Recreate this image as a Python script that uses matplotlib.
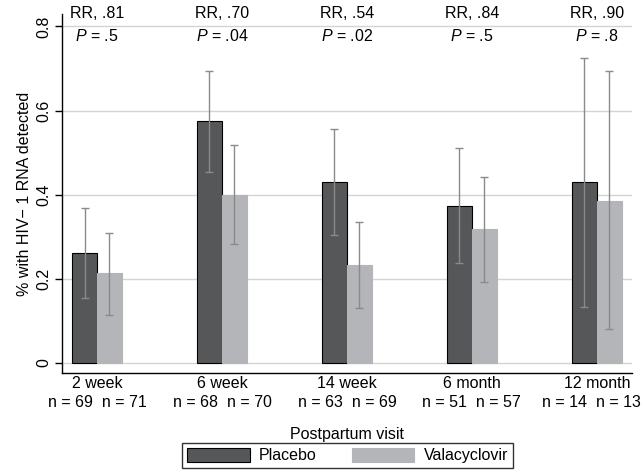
import matplotlib.pyplot as plt
import matplotlib.patches as patches
import numpy as np

plt.rcParams['font.family'] = ['Liberation Sans', 'DejaVu Sans']
plt.rcParams['mathtext.fontset'] = 'custom'
plt.rcParams['mathtext.it'] = 'Liberation Sans:italic'
plt.rcParams['mathtext.rm'] = 'Liberation Sans'

# dane
visits = ['2 week', '6 week', '14 week', '6 month', '12 month']
placebo = [0.262, 0.576, 0.431, 0.374, 0.431]
placebo_lo = [0.155, 0.455, 0.305, 0.238, 0.133]
placebo_hi = [0.368, 0.695, 0.555, 0.512, 0.726]
valacy = [0.214, 0.400, 0.233, 0.319, 0.386]
valacy_lo = [0.114, 0.283, 0.131, 0.193, 0.081]
valacy_hi = [0.310, 0.519, 0.336, 0.443, 0.693]
n_placebo = [69, 68, 63, 51, 14]
n_valacy = [71, 70, 69, 57, 13]
rr_labels = ['RR, .81', 'RR, .70', 'RR, .54', 'RR, .84', 'RR, .90']
p_labels = ['.5', '.04', '.02', '.5', '.8']

dark = '#555759'
light = '#b4b5b8'
err_col = '#8a8a8a'
fs = 11.5

fig = plt.figure(figsize=(6.44, 4.73), dpi=100)
ax = fig.add_axes([0.0963, 0.2114, 0.8847, 0.7586])

x = np.arange(len(visits))
w = 0.2

# siatka
for g in [0, 0.2, 0.4, 0.6, 0.8]:
    ax.axhline(g, color='#d4d4d4', linewidth=1, zorder=0)

ax.bar(x - w / 2, placebo, w, color=dark, edgecolor='black', linewidth=0.8, zorder=2)
ax.bar(x + w / 2, valacy, w, color=light, edgecolor=light, linewidth=0.8, zorder=2)

yerr_p = [np.array(placebo) - np.array(placebo_lo), np.array(placebo_hi) - np.array(placebo)]
yerr_v = [np.array(valacy) - np.array(valacy_lo), np.array(valacy_hi) - np.array(valacy)]
ax.errorbar(x - w / 2, placebo, yerr=yerr_p, fmt='none', ecolor=err_col,
            elinewidth=1, capsize=3, capthick=1, zorder=3)
ax.errorbar(x + w / 2, valacy, yerr=yerr_v, fmt='none', ecolor=err_col,
            elinewidth=1, capsize=3, capthick=1, zorder=3)

ax.set_xlim(-0.28, 4.28)
ax.set_ylim(-0.024, 0.829)

# osie
for s in ['top', 'right']:
    ax.spines[s].set_visible(False)
ax.spines['left'].set_linewidth(1)
ax.spines['bottom'].set_linewidth(1)

ax.set_yticks([0, 0.2, 0.4, 0.6, 0.8])
ax.set_yticklabels(['0', '0.2', '0.4', '0.6', '0.8'], rotation=90, va='center', fontsize=fs)
ax.tick_params(axis='y', length=5, width=1, pad=3)

ax.set_xticks(x)
ax.set_xticklabels(visits, fontsize=fs)
ax.tick_params(axis='x', length=0, pad=2)

ax.set_ylabel('% with HIV\u2212 1 RNA detected', fontsize=fs, labelpad=3)
ax.set_xlabel('Postpartum visit', fontsize=fs, labelpad=26)

# liczebności pod osią (ostatnia lekko w lewo, jak w oryginale)
nx = x.astype(float)
nx[-1] -= 0.04
for i in range(len(visits)):
    ax.text(nx[i], -0.093, 'n = %d  n = %d' % (n_placebo[i], n_valacy[i]),
            ha='center', va='center', fontsize=fs, clip_on=False)

# RR i P nad słupkami
for i in range(len(visits)):
    ax.text(x[i], 0.831, rr_labels[i], ha='center', va='center', fontsize=fs)
    ax.text(x[i], 0.776, r'$P$ = ' + p_labels[i], ha='center', va='center', fontsize=fs)

# legenda
h1 = patches.Patch(facecolor=dark, edgecolor='black', linewidth=0.8, label='Placebo')
h2 = patches.Patch(facecolor=light, edgecolor=light, linewidth=0.8, label='Valacyclovir')
leg = fig.legend(handles=[h1, h2], ncol=2, loc='upper center', bbox_to_anchor=(0.540, 0.064),
                 frameon=True, fancybox=False, edgecolor='black', fontsize=fs,
                 handlelength=3.9, handleheight=1.05, handletextpad=0.6,
                 columnspacing=2.2, borderpad=0.3, borderaxespad=0)
leg.get_frame().set_linewidth(1)

fig.savefig('out.png', dpi=100)
